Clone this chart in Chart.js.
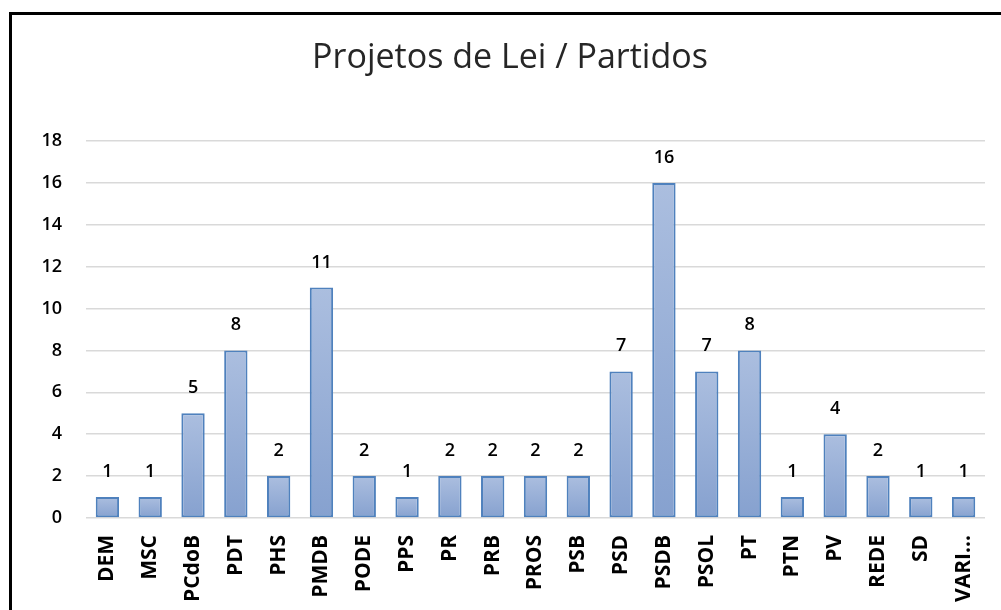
<!DOCTYPE html>
<html>
<head>
<meta charset="utf-8">
<script src="https://cdn.jsdelivr.net/npm/chart.js@4/dist/chart.umd.min.js"></script>
<style>
  html, body { margin: 0; padding: 0; background: #fff; }
  #wrap { position: relative; width: 1001px; height: 610px; overflow: hidden; }
  #frame { position: absolute; left: 9px; top: 12px; width: 1001px; height: 610px;
           border-left: 3px solid #000; border-top: 3px solid #000; pointer-events: none; }
</style>
</head>
<body>
<div id="wrap">
  <canvas id="chart" width="1001" height="610"></canvas>
  <div id="frame"></div>
</div>
<script>
// Chart data
const chartTitle = 'Projetos de Lei / Partidos';
const partidos = ['DEM', 'MSC', 'PCdoB', 'PDT', 'PHS', 'PMDB', 'PODE', 'PPS', 'PR', 'PRB', 'PROS',
  'PSB', 'PSD', 'PSDB', 'PSOL', 'PT', 'PTN', 'PV', 'REDE', 'SD', 'VARI...'];
const projetos = [1, 1, 5, 8, 2, 11, 2, 1, 2, 2, 2, 2, 7, 16, 7, 8, 1, 4, 2, 1, 1];
const yTicks = [0, 2, 4, 6, 8, 10, 12, 14, 16, 18];

const FONT = "'Open Sans', 'DejaVu Sans', sans-serif";

// title centred on the framed box (the frame runs past the right edge)
const boxTitle = {
  id: 'boxTitle',
  afterDraw(chart) {
    const ctx = chart.ctx;
    ctx.save();
    ctx.font = '400 34px ' + FONT;
    ctx.fillStyle = '#262626';
    ctx.textAlign = 'center';
    ctx.textBaseline = 'middle';
    ctx.fillText(chartTitle, 510, 58);
    ctx.restore();
  }
};

// value labels above the bars
const barLabels = {
  id: 'barLabels',
  afterDatasetsDraw(chart) {
    const ctx = chart.ctx;
    const meta = chart.getDatasetMeta(0);
    ctx.save();
    ctx.font = '600 18px ' + FONT;
    ctx.fillStyle = '#000';
    ctx.textAlign = 'center';
    ctx.textBaseline = 'alphabetic';
    meta.data.forEach(function(bar, i) {
      ctx.fillText(String(projetos[i]), bar.x, bar.y - 20);
    });
    ctx.restore();
  }
};

function barGradient(c) {
  const chart = c.chart;
  if (c.type !== 'data' || !chart.chartArea) return '#98b0d8';
  const y = chart.scales.y;
  const top = y.getPixelForValue(c.raw);
  const bottom = y.getPixelForValue(0);
  const g = chart.ctx.createLinearGradient(0, top, 0, bottom);
  g.addColorStop(0, '#abbedf');
  g.addColorStop(1, '#86a1cf');
  return g;
}

new Chart(document.getElementById('chart'), {
  type: 'bar',
  data: {
    labels: partidos,
    datasets: [{
      data: projetos,
      backgroundColor: barGradient,
      borderColor: '#4f81bd',
      borderWidth: 2,
      borderSkipped: false,
      categoryPercentage: 1,
      barPercentage: 0.545
    }]
  },
  options: {
    responsive: false,
    animation: false,
    layout: { padding: { top: 141, left: 12, right: 16, bottom: 0 } },
    plugins: {
      legend: { display: false },
      tooltip: { enabled: false },
      title: { display: false }
    },
    scales: {
      x: {
        grid: { display: false },
        border: { display: false },
        ticks: {
          autoSkip: false,
          maxRotation: 90,
          minRotation: 90,
          padding: 9,
          color: '#000',
          font: { family: FONT, size: 21, weight: '700' }
        },
        afterFit: function(scale) { scale.height = 92; }
      },
      y: {
        min: 0,
        max: 18,
        afterBuildTicks: function(scale) {
          scale.ticks = yTicks.map(function(v) { return { value: v }; });
        },
        grid: { color: '#d9d9d9', lineWidth: 1.5, drawTicks: false },
        border: { display: false },
        ticks: {
          padding: 24,
          color: '#000',
          font: { family: FONT, size: 18, weight: '600' }
        },
        afterFit: function(scale) { scale.width = 74; }
      }
    }
  },
  plugins: [barLabels, boxTitle]
});
</script>
</body>
</html>
